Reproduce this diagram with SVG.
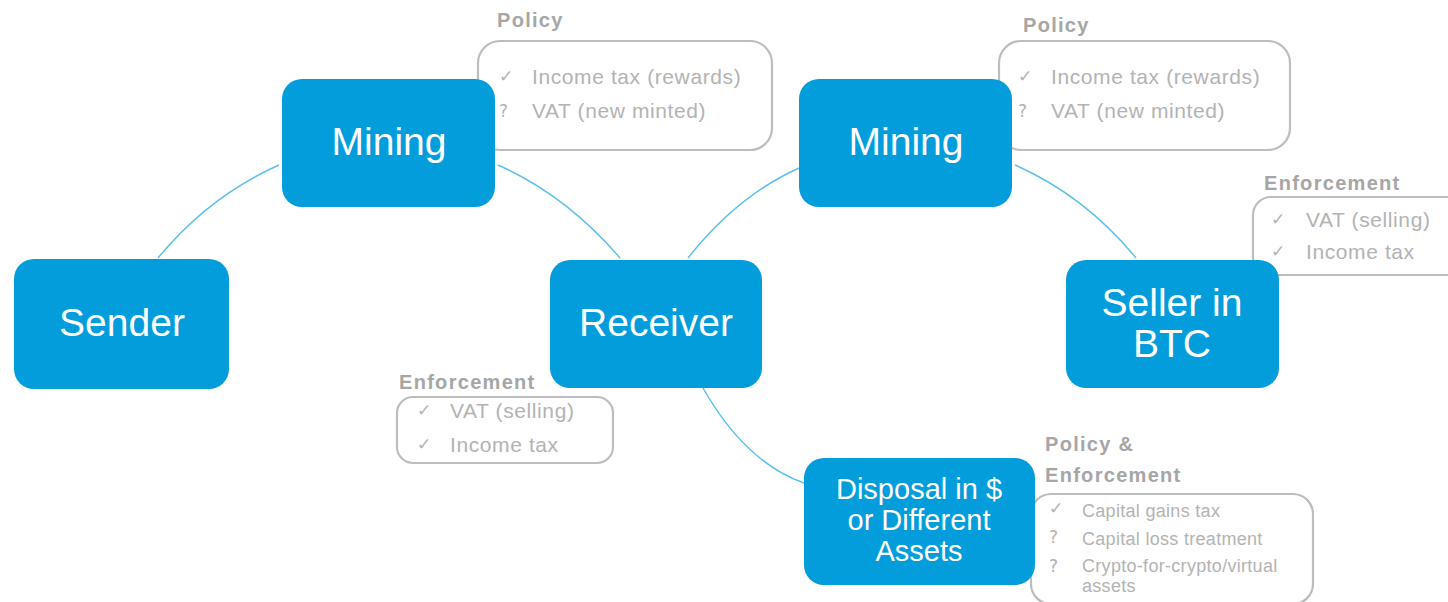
<svg xmlns="http://www.w3.org/2000/svg" width="1448" height="602" viewBox="0 0 1448 602">
<style>
.node{fill:#039ddb;}
.nt{fill:#fff;font-family:"Liberation Sans",Arial,sans-serif;font-size:39px;text-anchor:middle;}
.nt2{fill:#fff;font-family:"Liberation Sans",Arial,sans-serif;font-size:29px;text-anchor:middle;}
.call{fill:none;stroke:#bdbdbd;stroke-width:2.2;}
.ttl{fill:#a6a6a6;font-family:"Liberation Sans",Arial,sans-serif;font-size:20px;font-weight:bold;letter-spacing:1.3px;}
.it{fill:#b3b3b3;font-family:"Liberation Sans",Arial,sans-serif;font-size:21px;letter-spacing:0.6px;}
.its{fill:#b3b3b3;font-family:"Liberation Sans",Arial,sans-serif;font-size:18px;letter-spacing:0.3px;}
.sym{fill:#b3b3b3;font-family:"DejaVu Sans",sans-serif;font-size:17px;}
.con{fill:none;stroke:#5bc0eb;stroke-width:1.5;}
</style>
<rect width="1448" height="602" fill="#fff"/>
<g id="connectors">
<path class="con" d="M158,258 Q209,196 279,165"/>
<path class="con" d="M498,165 Q567,196 620,258"/>
<path class="con" d="M688,258 Q737,196 799,168"/>
<path class="con" d="M1015,165 Q1085,196 1136,258"/>
<path class="con" d="M703,388 Q745,462 804,483"/>
</g>
<g id="policy1">
<rect class="call" x="478" y="41" width="294" height="109" rx="22"/>
<text class="ttl" x="497" y="27">Policy</text>
<text class="sym" x="499" y="82">✓</text>
<text class="it" x="532" y="84">Income tax (rewards)</text>
<text class="sym" x="499" y="117">?</text>
<text class="it" x="532" y="118">VAT (new minted)</text>
</g>
<g id="policy2">
<rect class="call" x="999" y="41" width="291" height="109" rx="22"/>
<text class="ttl" x="1023" y="32">Policy</text>
<text class="sym" x="1018" y="82">✓</text>
<text class="it" x="1051" y="84">Income tax (rewards)</text>
<text class="sym" x="1018" y="117">?</text>
<text class="it" x="1051" y="118">VAT (new minted)</text>
</g>
<g id="enforcement-right">
<rect class="call" x="1253" y="197" width="220" height="78" rx="18"/>
<text class="ttl" x="1264" y="190">Enforcement</text>
<text class="sym" x="1271" y="225">✓</text>
<text class="it" x="1306" y="227">VAT (selling)</text>
<text class="sym" x="1271" y="257">✓</text>
<text class="it" x="1306" y="259">Income tax</text>
</g>
<g id="enforcement-left">
<rect class="call" x="397" y="397" width="216" height="66" rx="16"/>
<text class="ttl" x="399" y="389">Enforcement</text>
<text class="sym" x="417" y="416">✓</text>
<text class="it" x="450" y="418">VAT (selling)</text>
<text class="sym" x="417" y="450">✓</text>
<text class="it" x="450" y="452">Income tax</text>
</g>
<g id="policy-enforcement">
<rect class="call" x="1031" y="494" width="282" height="110" rx="20"/>
<text class="ttl" x="1045" y="451">Policy &amp;</text>
<text class="ttl" x="1045" y="482">Enforcement</text>
<text class="sym" x="1049" y="514">✓</text>
<text class="its" x="1082" y="517">Capital gains tax</text>
<text class="sym" x="1049" y="543">?</text>
<text class="its" x="1082" y="545">Capital loss treatment</text>
<text class="sym" x="1049" y="572">?</text>
<text class="its" x="1082" y="572">Crypto-for-crypto/virtual</text>
<text class="its" x="1082" y="592">assets</text>
</g>
<g id="sender">
<rect class="node" x="14" y="259" width="215" height="130" rx="20"/>
<text class="nt" x="122" y="336">Sender</text>
</g>
<g id="mining1">
<rect class="node" x="282" y="79" width="213" height="128" rx="20"/>
<text class="nt" x="389" y="155">Mining</text>
</g>
<g id="receiver">
<rect class="node" x="550" y="260" width="212" height="128" rx="20"/>
<text class="nt" x="656" y="336">Receiver</text>
</g>
<g id="mining2">
<rect class="node" x="799" y="79" width="213" height="128" rx="20"/>
<text class="nt" x="906" y="155">Mining</text>
</g>
<g id="seller">
<rect class="node" x="1066" y="260" width="213" height="128" rx="20"/>
<text class="nt" x="1172" y="316">Seller in</text>
<text class="nt" x="1172" y="357">BTC</text>
</g>
<g id="disposal">
<rect class="node" x="804" y="458" width="231" height="127" rx="20"/>
<text class="nt2" x="919" y="499">Disposal in $</text>
<text class="nt2" x="919" y="530">or Different</text>
<text class="nt2" x="919" y="561">Assets</text>
</g>
</svg>
